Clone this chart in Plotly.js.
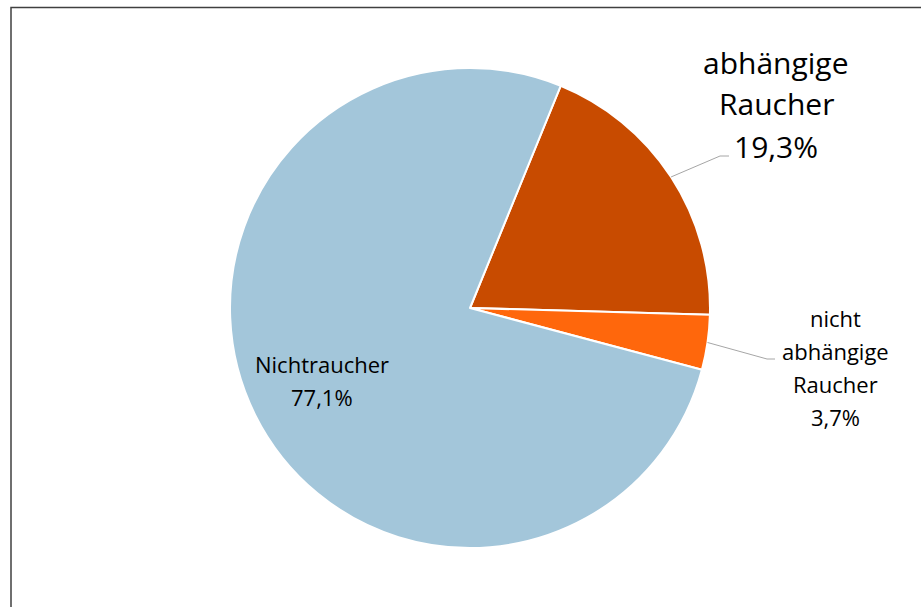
<!DOCTYPE html>
<html>
<head>
<meta charset="utf-8">
<script src="https://cdn.plot.ly/plotly-3.0.1.min.js"></script>
<style>html,body{margin:0;padding:0;background:#fff;}#chart{width:921px;height:607px;}</style>
</head>
<body>
<div id="chart"></div>
<script>
// ---- data ----
const labels = ['abhängige Raucher', 'nicht abhängige Raucher', 'Nichtraucher'];
const values = [19.3, 3.7, 77.1];
const colors = ['#C84B00', '#FF670C', 'rgb(163,198,218)'];

// ---- layout constants (pixels) ----
const W = 921, H = 607;
const cx = 470, cy = 308, R = 240;
const startAngle = 22.2; // degrees clockwise from 12 o'clock
const FONT = '"Open Sans", Lato, sans-serif';
const labelStyle = [
  {x: 776, y0: 62, size: 30, step: 42, elbow: [720, 156], end: [729, 156]},
  {x: 835, y0: 318, size: 22, step: 33, elbow: [767, 359], end: [775, 359]},
  {x: 322, y0: 364, size: 22, step: 33, elbow: null}
];

const px = x => x / W;
const py = y => 1 - y / H;
const fmt = v => v.toFixed(1).replace('.', ',') + '%';

const total = values.reduce((a, b) => a + b, 0);
let acc = startAngle;
const annotations = [], shapes = [];
values.forEach((v, i) => {
  const span = v / total * 360;
  const mid = (acc + span / 2) * Math.PI / 180;
  acc += span;
  const st = labelStyle[i];
  const lines = labels[i].split(' ').concat([fmt(v)]);
  lines.forEach((t, k) => {
    annotations.push({
      x: px(st.x), y: py(st.y0 + k * st.step), xref: 'paper', yref: 'paper',
      text: t, showarrow: false, xanchor: 'center', yanchor: 'middle',
      font: {family: FONT, size: st.size, color: '#000'}
    });
  });
  if (st.elbow) {
    const sx = cx + R * Math.sin(mid), sy = cy - R * Math.cos(mid);
    shapes.push({
      type: 'path', xref: 'paper', yref: 'paper',
      path: `M ${px(sx)} ${py(sy)} L ${px(st.elbow[0])} ${py(st.elbow[1])} L ${px(st.end[0])} ${py(st.end[1])}`,
      line: {color: '#A6A6A6', width: 1}
    });
  }
});

// chart frame
shapes.push({
  type: 'path', xref: 'paper', yref: 'paper',
  path: `M ${px(11)} ${py(H + 5)} L ${px(11)} ${py(7.5)} L ${px(W + 5)} ${py(7.5)}`,
  line: {color: '#404040', width: 1.5}
});

const trace = {
  type: 'pie', labels: labels, values: values, sort: false,
  direction: 'clockwise', rotation: startAngle,
  marker: {colors: colors, line: {color: '#FFFFFF', width: 2}},
  textinfo: 'none', hoverinfo: 'none',
  domain: {x: [px(cx - R), px(cx + R)], y: [py(cy + R), py(cy - R)]}
};

Plotly.newPlot('chart', [trace], {
  width: W, height: H, margin: {l: 0, r: 0, t: 0, b: 0},
  paper_bgcolor: '#fff', showlegend: false,
  annotations: annotations, shapes: shapes
}, {displayModeBar: false, staticPlot: true});
</script>
</body>
</html>
